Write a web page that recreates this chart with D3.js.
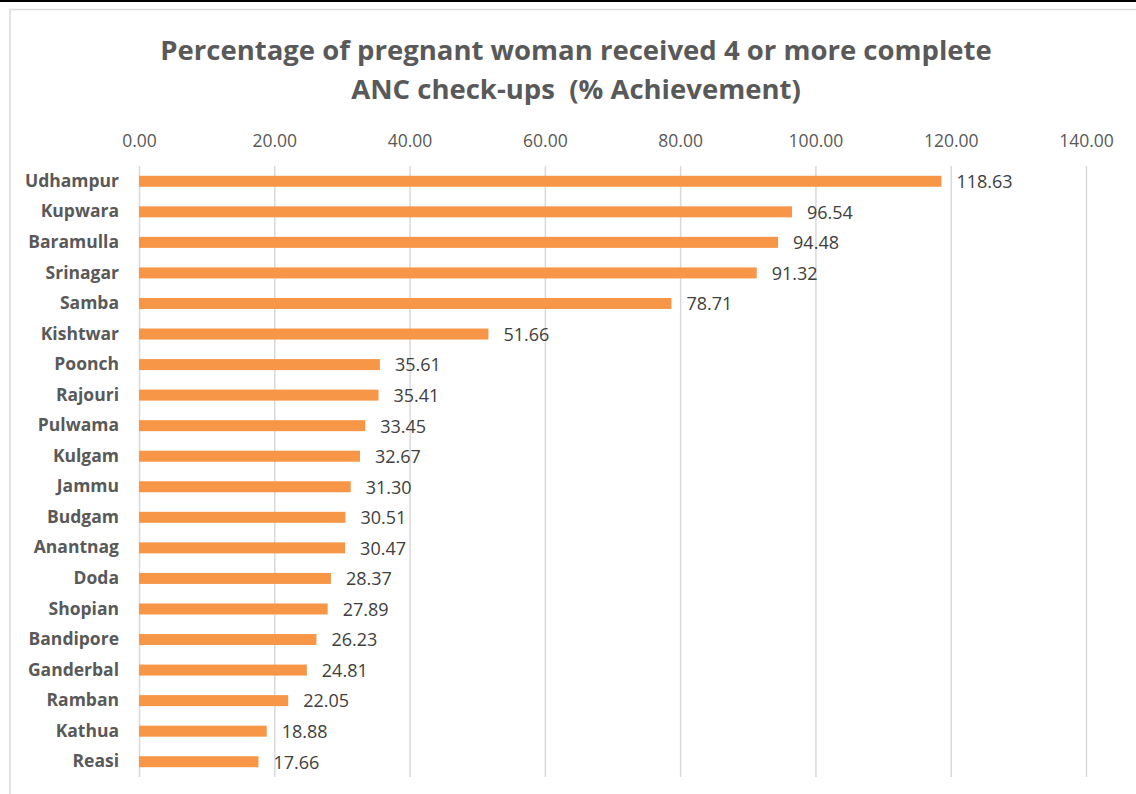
<!DOCTYPE html>
<html lang="en">
<head>
  <meta charset="UTF-8" />
  <title>ANC check-ups</title>
  <script src="https://d3js.org/d3.v7.min.js"></script>
  <style>
    body {margin: 0; background: #fff;}
    svg {display: block;}
  </style>
</head>
<body>
<script>
  // district names, top to bottom
  const districts = ["Udhampur", "Kupwara", "Baramulla", "Srinagar", "Samba", "Kishtwar",
    "Poonch", "Rajouri", "Pulwama", "Kulgam", "Jammu", "Budgam", "Anantnag", "Doda",
    "Shopian", "Bandipore", "Ganderbal", "Ramban", "Kathua", "Reasi"];
  const achievement = [118.63, 96.54, 94.48, 91.32, 78.71, 51.66, 35.61, 35.41, 33.45, 32.67,
    31.30, 30.51, 30.47, 28.37, 27.89, 26.23, 24.81, 22.05, 18.88, 17.66];
  const xTicks = [0, 20, 40, 60, 80, 100, 120, 140];
  const titleLines = ["Percentage of pregnant woman received 4 or more complete",
    "ANC check-ups  (% Achievement)"];

  const width = 1136;
  const height = 794;
  const paddingLeft = 139;
  const paddingRight = 50;
  const paddingTop = 166;
  const paddingBottom = 17;

  const svg = d3.select("body")
                .append("svg")
                .attr("width", width)
                .attr("height", height);

  // black strip on top and the light chart frame
  svg.append("rect").attr("x", 0).attr("y", 0).attr("width", width).attr("height", 2).attr("fill", "#000");
  svg.append("rect")
     .attr("x", 10).attr("y", 9.5)
     .attr("width", width + 20).attr("height", height + 20)
     .attr("fill", "none").attr("stroke", "#d9d9d9").attr("stroke-width", 1.5);

  //****SCALES****
  const xScale = d3.scaleLinear()
                   .domain([0, 140])
                   .range([paddingLeft, width - paddingRight]);

  const yScale = d3.scaleBand()
                   .domain(districts)
                   .range([paddingTop, height - paddingBottom])
                   .paddingInner(0.64)
                   .paddingOuter(0.32);

  //****TITLE****
  svg.append("g")
     .selectAll("text")
     .data(titleLines)
     .join("text")
     .attr("x", 576)
     .attr("y", (d, i) => 60 + i * 39)
     .attr("text-anchor", "middle")
     .attr("font-family", "'Open Sans', sans-serif")
     .attr("font-weight", "bold")
     .attr("font-size", "27.5px")
     .attr("fill", "#595959")
     .style("white-space", "pre")
     .text(d => d);

  //****GRID + TOP AXIS****
  const xAxis = d3.axisTop(xScale)
                  .tickValues(xTicks)
                  .tickFormat(d3.format(".2f"))
                  .tickSize(-(height - paddingBottom - paddingTop))
                  .tickPadding(19);

  const gx = svg.append("g")
     .attr("transform", `translate(0, ${paddingTop})`)
     .call(xAxis);
  gx.select(".domain").remove();
  gx.selectAll("line").attr("stroke", "#d9d9d9").attr("stroke-width", 1.5);
  gx.selectAll("text")
    .attr("font-family", "'Open Sans', sans-serif")
    .attr("font-size", "17.5px")
    .attr("fill", "#595959");

  //****LEFT AXIS (category names)****
  const yAxis = d3.axisLeft(yScale).tickSize(0).tickPadding(20);
  const gy = svg.append("g")
     .attr("transform", `translate(${paddingLeft}, 0)`)
     .call(yAxis);
  gy.select(".domain").remove();
  gy.selectAll("text")
    .attr("font-family", "'Open Sans', sans-serif")
    .attr("font-weight", "bold")
    .attr("font-size", "17.5px")
    .attr("fill", "#595959");

  //****BARS****
  const rows = districts.map((d, i) => ({name: d, value: achievement[i]}));

  svg.append("g")
     .selectAll("rect")
     .data(rows)
     .join("rect")
     .attr("x", xScale(0))
     .attr("y", d => yScale(d.name))
     .attr("width", d => xScale(d.value) - xScale(0))
     .attr("height", yScale.bandwidth())
     .attr("fill", "#f79646");

  //****VALUE LABELS****
  svg.append("g")
     .selectAll("text")
     .data(rows)
     .join("text")
     .attr("x", d => xScale(d.value) + 15)
     .attr("y", d => yScale(d.name) + yScale.bandwidth() / 2)
     .attr("dy", "0.38em")
     .attr("font-family", "'Open Sans', sans-serif")
     .attr("font-size", "18px")
     .attr("fill", "#404040")
     .text(d => d3.format(".2f")(d.value));
</script>
</body>
</html>
